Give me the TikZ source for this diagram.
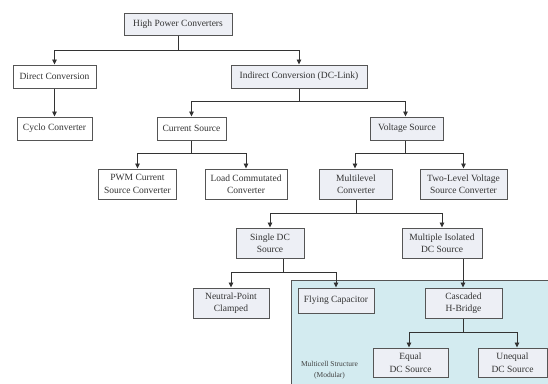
\documentclass[tikz,border=0pt]{standalone}
\usepackage{fontspec}
\setmainfont{Liberation Serif}
\usetikzlibrary{arrows.meta}
\definecolor{boxfill}{HTML}{EDEFF5}
\definecolor{regionfill}{HTML}{D3EBF0}
\definecolor{linecol}{HTML}{333333}
\definecolor{boxline}{HTML}{555555}
\begin{document}
\begin{tikzpicture}[x=1pt,y=-1pt,
  box/.style={draw=boxline,line width=1pt,fill=boxfill,rectangle,inner sep=0pt,
    font=\fontsize{9.5}{12.5}\selectfont,align=center,text=black!80},
  wbox/.style={box,fill=white},
  arr/.style={draw=linecol,line width=0.9pt,-{Triangle[length=5pt,width=4.5pt]}},
  ln/.style={draw=linecol,line width=0.9pt}]
\useasboundingbox (0,0) rectangle (548,383);
\begin{scope}
\clip (0,0) rectangle (548,383);
\fill[regionfill,draw=boxline,line width=0.8pt] (291,280) rectangle (560,395);
\end{scope}
% nodes
\node[box,minimum width=108,minimum height=22] (hpc) at (178,24) {High Power Converters};
\node[wbox,minimum width=83,minimum height=23] (dcv) at (54.5,76.5) {Direct Conversion};
\node[box,minimum width=136,minimum height=23] (idc) at (299,76.5) {Indirect Conversion (DC-Link)};
\node[wbox,minimum width=75,minimum height=23] (cyc) at (54.5,128.5) {Cyclo Converter};
\node[wbox,minimum width=69,minimum height=23] (cs) at (191.5,128.5) {Current Source};
\node[box,minimum width=73,minimum height=23] (vs) at (407,128.5) {Voltage Source};
\node[wbox,minimum width=78,minimum height=30] (pwm) at (137.5,184) {PWM Current\\Source Converter};
\node[wbox,minimum width=82,minimum height=30] (lcc) at (246,184) {Load Commutated\\Converter};
\node[box,minimum width=73,minimum height=30] (ml) at (356,184) {Multilevel\\Converter};
\node[box,minimum width=87,minimum height=30] (tl) at (463.5,184) {Two-Level Voltage\\Source Converter};
\node[box,minimum width=68,minimum height=30] (sdc) at (270,243) {Single DC\\Source};
\node[box,minimum width=80,minimum height=30] (mid) at (442,243) {Multiple Isolated\\DC Source};
\node[box,minimum width=76,minimum height=30] (npc) at (231,303) {Neutral-Point\\Clamped};
\node[box,minimum width=76,minimum height=25] (fc) at (336,300.5) {Flying Capacitor};
\node[box,minimum width=77,minimum height=30] (chb) at (463.5,303) {Cascaded\\H-Bridge};
\node[box,minimum width=75,minimum height=29] (eq) at (410.5,362.5) {Equal\\DC Source};
\node[box,minimum width=69,minimum height=29] (uneq) at (512.5,362.5) {Unequal\\DC Source};
\node[font=\fontsize{7.5}{11.5}\selectfont,align=center,text=black!75] (mcs) at (329.5,370) {Multicell Structure\\(Modular)};
% bus coordinates
\coordinate (b1) at (0,50);
\coordinate (b2) at (0,101);
\coordinate (b3) at (0,153);
\coordinate (b4) at (0,213);
\coordinate (b5) at (0,272);
\coordinate (b6) at (0,332);
% connectors
\draw[ln] (hpc.south) -- (hpc.south |- b1);
\draw[arr] (hpc.south |- b1) -| (dcv.north);
\draw[arr] (hpc.south |- b1) -| (idc.north);
\draw[arr] (dcv.south) -- (cyc.north);
\draw[ln] (idc.south) -- (idc.south |- b2);
\draw[arr] (idc.south |- b2) -| (cs.north);
\draw[arr] (idc.south |- b2) -| ([xshift=-1.5pt]vs.north);
\draw[ln] (cs.south) -- (cs.south |- b3);
\draw[arr] (cs.south |- b3) -| (pwm.north);
\draw[arr] (cs.south |- b3) -| (lcc.north);
\draw[ln] ([xshift=-1.5pt]vs.south) -- ([xshift=-1.5pt]vs.south |- b3);
\draw[arr] ([xshift=-1.5pt]vs.south |- b3) -| ([xshift=-1pt]ml.north);
\draw[arr] ([xshift=-1.5pt]vs.south |- b3) -| (tl.north);
\draw[ln] (ml.south) -- (ml.south |- b4);
\draw[arr] (ml.south |- b4) -| (sdc.north);
\draw[arr] (ml.south |- b4) -| (mid.north);
\draw[ln] ([xshift=13pt]sdc.south) -- ([xshift=13pt]sdc.south |- b5);
\draw[arr] ([xshift=13pt]sdc.south |- b5) -| (npc.north);
\draw[arr] ([xshift=13pt]sdc.south |- b5) -| (fc.north);
\draw[arr] ([xshift=21pt]mid.south) -- ([xshift=21pt]mid.south |- chb.north);
\draw[ln] (chb.south) -- (chb.south |- b6);
\draw[arr] (chb.south |- b6) -| ([xshift=-1.5pt]eq.north);
\draw[arr] (chb.south |- b6) -| ([xshift=4.5pt]uneq.north);
\end{tikzpicture}
\end{document}
